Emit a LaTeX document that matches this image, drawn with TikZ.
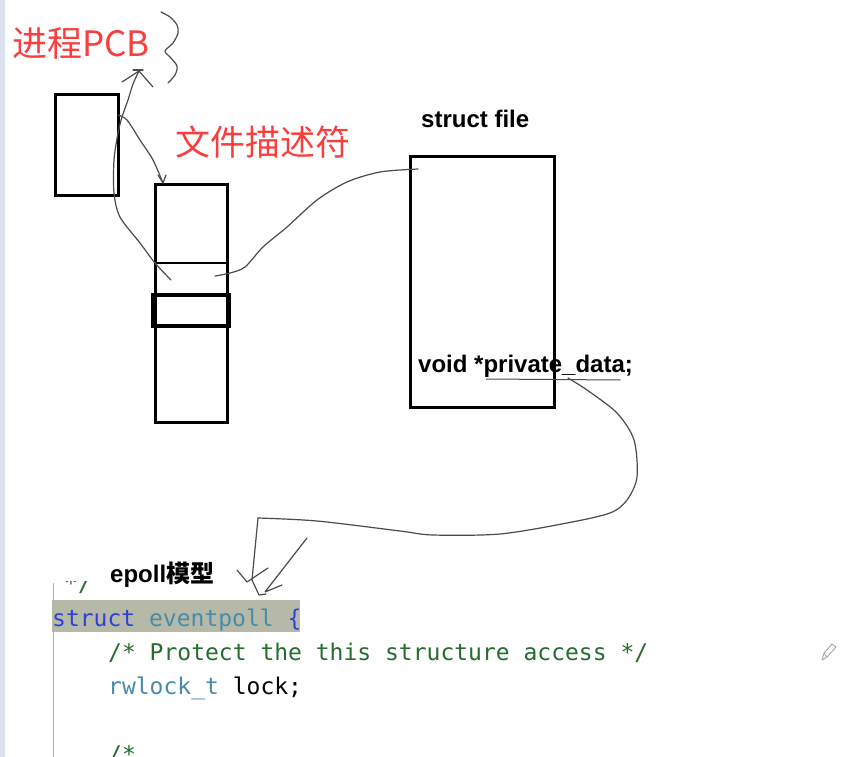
\documentclass[tikz,border=0pt]{standalone}
\usepackage{fontspec}
\setmainfont{Liberation Sans}
\setmonofont{DejaVu Sans Mono}
\newfontfamily\cjk{Noto Sans CJK SC}
\usetikzlibrary{arrows.meta}
\definecolor{redtxt}{RGB}{250,62,62}
\definecolor{kw}{RGB}{45,65,215}
\definecolor{ty}{RGB}{70,140,170}
\definecolor{cmt}{RGB}{35,110,45}
\definecolor{hl}{RGB}{183,185,168}
\definecolor{strip}{RGB}{218,226,240}
\definecolor{pen}{RGB}{75,75,75}
\tikzset{
  box/.style={draw=black, line width=3pt, inner sep=0pt, outer sep=0pt},
  hand/.style={draw=pen, line width=1.2pt, line cap=round, line join=round},
  redlabel/.style={text=redtxt, inner sep=0pt, font=\cjk\fontsize{35}{35}\selectfont},
  boldlabel/.style={inner sep=0pt, font=\bfseries\fontsize{24}{24}\selectfont},
  code/.style={inner sep=0pt, font=\ttfamily\fontsize{23}{23}\selectfont}
}
\begin{document}
\begin{tikzpicture}[x=1pt,y=-1pt]
\useasboundingbox (0,0) rectangle (843,757);
\clip (0,0) rectangle (843,757);
\fill[white] (0,0) rectangle (843,757);
\fill[strip] (0,0) rectangle (5,757);

% labels
\node[redlabel, anchor=base west] (pcbl) at (12,57) {进程PCB};
\node[redlabel, anchor=base west] (fdl) at (175,156) {文件描述符};
\node[boldlabel, anchor=base west] (sfl) at (421,128) {struct file};
\node[boldlabel, anchor=base west] (pd) at (418,372) {void *private\_data;};
\node[boldlabel, anchor=base west] (epl) at (110,582) {epoll{\cjk\bfseries 模型}};

% boxes
\node[box, minimum width=63pt, minimum height=100pt] (pcb) at (86.5,145) {};
\node[box, minimum width=72pt, minimum height=238pt] (fdt) at (191,303) {};
\draw[black, line width=2pt] (fdt.west |- 0,263) -- (fdt.east |- 0,263);
\node[box, line width=3.5pt, minimum width=76pt, minimum height=31pt] (fdsel) at (191,310.5) {};
\node[box, minimum width=144pt, minimum height=251pt] (sf) at (482,281.5) {};

% hand-drawn squiggle
\draw[hand] plot[smooth] coordinates {(161,12) (170,17) (177,25) (178,33) (173,43) (165,51) (170,57) (177,66) (175,75) (168,83)};

% PCB -> fd table
\coordinate (a1) at (118,115);
\coordinate (a2) at (163,183);
\draw[hand] plot[smooth] coordinates {(a1) (127,120) (140,140) (153,160) (a2)};
\draw[hand] (158,175) -- (a2) -- (166,175);

% fd entry -> up arrow
\coordinate (b1) at (171,280);
\coordinate (b2) at (139,71);
\draw[hand] plot[smooth] coordinates {(b1) (155,263) (140,243) (120,217) (114,193) (114,160) (118,133) (122,117) (128,100) (133,84) (b2)};
\draw[hand] (122,82) -- (b2) -- (153,87);
\draw[hand] (133,70) -- (143,70);

% fd entry -> struct file
\coordinate (c1) at (215,276);
\coordinate (c2) at (418,169);
\draw[hand] plot[smooth] coordinates {(c1) (230,273) (245,267) (263,247) (287,227) (317,200) (347,182) (380,172) (c2)};

% private_data -> eventpoll
\draw[hand, line width=1pt] (486,379) -- (620,380);
\coordinate (d1) at (568,378);
\coordinate (d2) at (258,518);
\draw[hand] plot[smooth] coordinates {(d1) (587,390) (617,413) (634,440) (637,477) (627,500) (610,513) (567,523) (500,534) (433,535) (400,531) (317,521) (d2)};
\draw[hand] (d2) -- (252,580) -- (259,595) -- (266,594);
\draw[hand] (237,570) -- (247,582) -- (268,568);
\draw[hand] (307,538) -- (265,592) -- (282,585);

% code window
\fill[hl] (52,600) rectangle (300,632);
\draw[gray!60, line width=1pt] (53,583) -- (53,757);
\begin{scope}
\clip (55,581) rectangle (105,598);
\node[code, text=cmt, anchor=base west] at (64,591) {*/};
\end{scope}
\node[code, anchor=base west] (l1) at (52,626) {\color{kw}struct \color{ty}eventpoll \color{kw}\{};
\node[code, anchor=base west, text=cmt] (l2) at (108,660) {/* Protect the this structure access */};
\node[code, anchor=base west] (l3) at (108,694) {\color{ty}rwlock\_t \color{black}lock;};
\node[code, anchor=base west, text=cmt] (l4) at (108,762) {/*};

% pencil icon
\draw[gray!70, line width=0.9pt, line join=round] (822,660) -- (824,653) -- (832,644) -- (836,647) -- (827,657) -- cycle (824,653) -- (827,657);
\end{tikzpicture}
\end{document}
